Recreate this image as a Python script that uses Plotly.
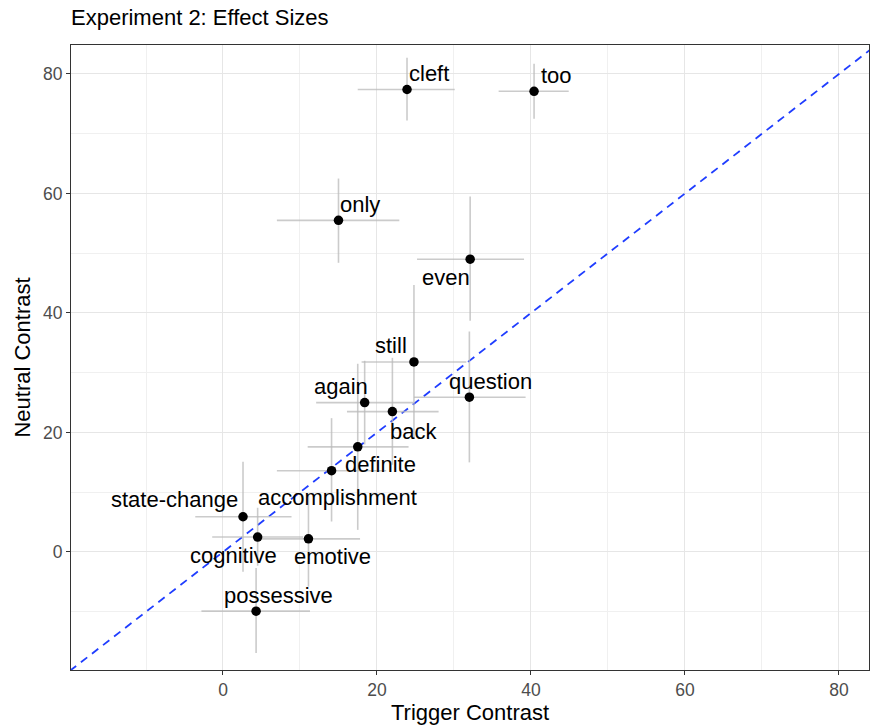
import plotly.graph_objects as go

# Effect sizes per presupposition trigger, with 95% CIs
triggers = ["cleft", "too", "only", "even", "still", "question", "again", "back",
            "definite", "accomplishment", "state-change", "cognitive", "emotive", "possessive"]
trigger_contrast = [23.9, 40.4, 15.0, 32.1, 24.8, 32.0, 18.4, 22.0, 17.5, 14.1, 2.6, 4.5, 11.1, 4.3]
trigger_lo = [17.5, 35.8, 7.0, 25.2, 18.0, 24.8, 12.1, 16.1, 11.0, 7.0, -3.6, -1.4, 4.4, -2.8]
trigger_hi = [30.1, 44.9, 22.9, 39.1, 31.6, 39.3, 24.7, 28.0, 24.1, 21.2, 8.9, 10.4, 17.8, 11.3]
neutral_contrast = [77.4, 77.1, 55.5, 49.0, 31.8, 25.9, 25.0, 23.5, 17.6, 13.6, 5.9, 2.5, 2.2, -9.9]
neutral_lo = [72.2, 72.5, 48.4, 38.7, 18.9, 15.0, 18.0, 14.6, 3.7, 5.1, -3.3, -2.3, -5.8, -16.9]
neutral_hi = [82.7, 81.7, 62.5, 59.5, 44.7, 36.9, 32.0, 32.5, 31.5, 22.4, 15.1, 7.4, 9.5, -2.7]

x_ticks = [0, 20, 40, 60, 80]
y_ticks = [0, 20, 40, 60, 80]

# Repelled label placement (pixel offsets from each point)
label_offsets = {
    "cleft": (22, -16), "too": (22, -16), "only": (22, -16), "even": (-24, 18),
    "still": (-23, -16), "question": (21, -16), "again": (-24, -16), "back": (21, 20),
    "definite": (23, 18), "accomplishment": (6, 27), "state-change": (-69, -17),
    "cognitive": (-24, 18), "emotive": (24, 18), "possessive": (22, -16),
}

FONT = "Liberation Sans, Arial, Helvetica, sans-serif"

fig = go.Figure()

# identity reference line
fig.add_trace(go.Scatter(
    x=[-40, 120], y=[-40, 120], mode="lines",
    line=dict(color="#1f3dff", width=1.8, dash="8px,6px"),
    hoverinfo="skip", showlegend=False,
))

fig.add_trace(go.Scatter(
    x=trigger_contrast, y=neutral_contrast, mode="markers",
    marker=dict(color="black", size=9.5),
    error_x=dict(type="data", symmetric=False,
                 array=[h - v for h, v in zip(trigger_hi, trigger_contrast)],
                 arrayminus=[v - l for l, v in zip(trigger_lo, trigger_contrast)],
                 color="rgba(185,185,185,0.75)", thickness=1.6, width=0),
    error_y=dict(type="data", symmetric=False,
                 array=[h - v for h, v in zip(neutral_hi, neutral_contrast)],
                 arrayminus=[v - l for l, v in zip(neutral_lo, neutral_contrast)],
                 color="rgba(185,185,185,0.75)", thickness=1.6, width=0),
    text=triggers, hoverinfo="text", showlegend=False,
))

for name, xv, yv in zip(triggers, trigger_contrast, neutral_contrast):
    dx, dy = label_offsets[name]
    fig.add_annotation(x=xv, y=yv, text=name, showarrow=False,
                       xshift=dx, yshift=-dy, xanchor="center", yanchor="middle",
                       font=dict(family=FONT, size=22, color="black"))

axis_common = dict(
    showline=True, linecolor="#333333", linewidth=1.2, mirror=True,
    ticks="outside", ticklen=4, tickcolor="#333333", tickwidth=1,
    tickfont=dict(family=FONT, size=17.5, color="#4D4D4D"),
    showgrid=True, gridcolor="#E6E6E6", gridwidth=1.4,
    minor=dict(showgrid=True, gridcolor="#F0F0F0", gridwidth=0.9, dtick=10),
    zeroline=False,
)

fig.update_xaxes(range=[-19.74, 83.9], tickvals=x_ticks,
                 title=dict(text="Trigger Contrast", font=dict(family=FONT, size=22, color="black"), standoff=4),
                 **axis_common)
fig.update_yaxes(range=[-19.75, 84.85], tickvals=y_ticks,
                 title=dict(text="Neutral Contrast", font=dict(family=FONT, size=22, color="black"), standoff=6),
                 **axis_common)

fig.update_layout(
    width=870, height=725,
    margin=dict(l=71, r=1, t=45, b=55),
    paper_bgcolor="white", plot_bgcolor="white",
    title=dict(text="Experiment 2: Effect Sizes", x=0, xref="paper", xanchor="left",
               y=1 - 17 / 725, yref="container", yanchor="middle",
               font=dict(family=FONT, size=22, color="black")),
)

fig.write_html("out.html")
